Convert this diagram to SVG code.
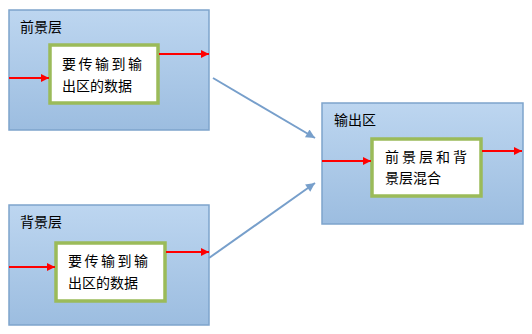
<svg xmlns="http://www.w3.org/2000/svg" width="532" height="334" viewBox="0 0 532 334">
<defs>
<linearGradient id="bg" x1="0" y1="0" x2="0" y2="1">
<stop offset="0" stop-color="#bdd6f0"/>
<stop offset="1" stop-color="#9cbde0"/>
</linearGradient>
<marker id="red" viewBox="0 0 10 10" refX="10" refY="5" markerWidth="10" markerHeight="8" markerUnits="userSpaceOnUse" orient="auto">
<path d="M0,0 L10,5 L0,10 Z" fill="#ff0000"/>
</marker>
<marker id="blue" viewBox="0 0 10 10" refX="10" refY="5" markerWidth="11" markerHeight="9" markerUnits="userSpaceOnUse" orient="auto">
<path d="M0,0 L10,5 L0,10 Z" fill="#779fcb"/>
</marker>
</defs>
<style>
.layer{fill:url(#bg);stroke:#7ea4cc;stroke-width:1.5}
.inner{fill:#ffffff;stroke:#9bbb59;stroke-width:3.5}
text{font-family:"Noto Sans CJK SC",sans-serif;font-size:14px;fill:#000}
.red{stroke:#ff0000;stroke-width:2;fill:none;marker-end:url(#red)}
.blue{stroke:#779fcb;stroke-width:2;fill:none;marker-end:url(#blue)}
</style>
<g id="fg">
<rect class="layer" x="9" y="10" width="200" height="120"/>
<text x="20" y="32">前景层</text>
</g>
<g id="fg-data">
<rect class="inner" x="50" y="45" width="108" height="58"/>
<text x="62" y="69" letter-spacing="2.5">要传输到输</text>
<text x="62" y="91">出区的数据</text>
</g>
<g id="bgl">
<rect class="layer" x="9" y="205" width="200" height="120"/>
<text x="20" y="227">背景层</text>
</g>
<g id="bg-data">
<rect class="inner" x="56" y="243" width="109" height="58"/>
<text x="68" y="266" letter-spacing="2.5">要传输到输</text>
<text x="68" y="288">出区的数据</text>
</g>
<g id="out">
<rect class="layer" x="322" y="103" width="201" height="121"/>
<text x="334" y="125">输出区</text>
</g>
<g id="mix">
<rect class="inner" x="372" y="139" width="109" height="57"/>
<text x="385" y="162" letter-spacing="3">前景层和背</text>
<text x="385" y="183">景层混合</text>
</g>
<g id="connectors">
<line class="red" x1="9" y1="78" x2="49" y2="78"/>
<line class="red" x1="159" y1="54" x2="209" y2="54"/>
<line class="red" x1="9" y1="267" x2="55" y2="267"/>
<line class="red" x1="166" y1="252" x2="209" y2="252"/>
<line class="red" x1="322" y1="161" x2="371" y2="161"/>
<line class="red" x1="482" y1="151" x2="522" y2="151"/>
<line class="blue" x1="213" y1="78" x2="315" y2="138"/>
<line class="blue" x1="209" y1="258" x2="315" y2="183"/>
</g>
</svg>
